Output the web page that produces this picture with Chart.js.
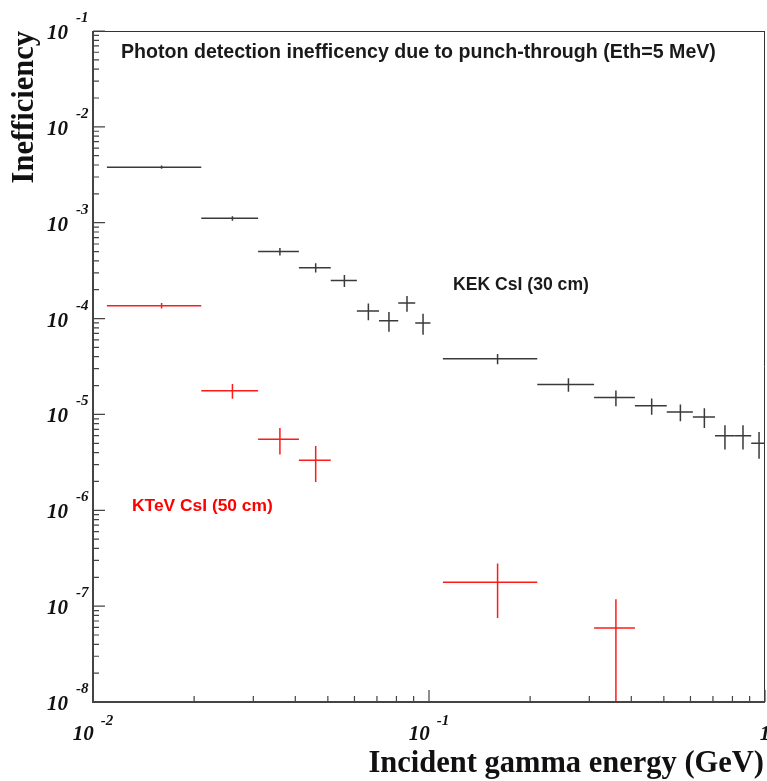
<!DOCTYPE html>
<html>
<head>
<meta charset="utf-8">
<script src="https://cdn.jsdelivr.net/npm/chart.js@4"></script>
<style>
  html, body { margin: 0; padding: 0; background: #fff; }
  canvas { display: block; }
</style>
</head>
<body>
<canvas id="chart" width="767" height="781"></canvas>
<script>
// KEK CsI (30 cm) -- bin centres, bin edges, values, errors
const kekX   = [0.016, 0.026, 0.036, 0.046, 0.056, 0.066, 0.076, 0.086, 0.096, 0.16, 0.26, 0.36, 0.46, 0.56, 0.66, 0.76, 0.86, 0.96];
const kekXLo = [0.011, 0.021, 0.031, 0.041, 0.051, 0.061, 0.071, 0.081, 0.091, 0.11, 0.21, 0.31, 0.41, 0.51, 0.61, 0.71, 0.81, 0.91];
const kekXHi = [0.021, 0.031, 0.041, 0.051, 0.061, 0.071, 0.081, 0.091, 0.101, 0.21, 0.31, 0.41, 0.51, 0.61, 0.71, 0.81, 0.91, 1.01];
const kekY   = [3.8e-3, 1.11e-3, 5.0e-4, 3.4e-4, 2.49e-4, 1.20e-4, 9.5e-5, 1.45e-4, 9.0e-5, 3.8e-5, 2.05e-5, 1.50e-5, 1.23e-5, 1.06e-5, 9.4e-6, 6.0e-6, 6.0e-6, 5.0e-6];
const kekErr = [1.5e-4, 6e-5, 4.5e-5, 3.8e-5, 3.5e-5, 2.4e-5, 2.2e-5, 2.7e-5, 2.2e-5, 4.6e-6, 3.3e-6, 2.8e-6, 2.4e-6, 2.1e-6, 2.2e-6, 1.7e-6, 1.7e-6, 1.55e-6];

// KTeV CsI (50 cm)
const ktevX   = [0.016, 0.026, 0.036, 0.046, 0.16, 0.36];
const ktevXLo = [0.011, 0.021, 0.031, 0.041, 0.11, 0.31];
const ktevXHi = [0.021, 0.031, 0.041, 0.051, 0.21, 0.41];
const ktevY   = [1.36e-4, 1.77e-5, 5.52e-6, 3.33e-6, 1.77e-7, 5.9e-8];
const ktevErr = [9e-6, 3.1e-6, 1.7e-6, 1.36e-6, 1.02e-7, 5.9e-8];

// axis decades (exponents)
const xExps = [-2, -1, 0];
const yExps = [-8, -7, -6, -5, -4, -3, -2, -1];

const titleText = 'Photon detection inefficency due to punch-through (Eth=5 MeV)';
const kekLabel = 'KEK CsI (30 cm)';
const ktevLabel = 'KTeV CsI (50 cm)';
const xTitle = 'Incident gamma energy (GeV)';
const yTitle = 'Inefficiency';

const SERIF = '"Liberation Serif", "Times New Roman", serif';
const SANS = '"Liberation Sans", Arial, Helvetica, sans-serif';

function toPoints(xs, ys) {
  return xs.map((x, i) => ({ x, y: ys[i] }));
}

// horizontal bin-width bar + vertical error bar, like ROOT's histogram "E" style
const crossPlugin = {
  id: 'crosses',
  afterDatasetsDraw(chart) {
    const { ctx, chartArea: a, scales: { x, y } } = chart;
    ctx.save();
    ctx.beginPath();
    ctx.rect(a.left, a.top, a.right - a.left, a.bottom - a.top);
    ctx.clip();
    chart.data.datasets.forEach(ds => {
      ctx.strokeStyle = ds.borderColor;
      ctx.lineWidth = 1.5;
      ds.data.forEach((p, i) => {
        const px = x.getPixelForValue(p.x);
        const py = y.getPixelForValue(p.y);
        const lo = p.y - ds.err[i];
        const yLo = lo > 0 ? y.getPixelForValue(lo) : a.bottom;
        const yHi = y.getPixelForValue(p.y + ds.err[i]);
        ctx.beginPath();
        ctx.moveTo(x.getPixelForValue(ds.xLo[i]), py);
        ctx.lineTo(x.getPixelForValue(ds.xHi[i]), py);
        ctx.moveTo(px, yHi);
        ctx.lineTo(px, yLo);
        ctx.stroke();
      });
    });
    ctx.restore();
  }
};

function powerLabel(ctx, base, exp) {
  ctx.font = 'bold italic 21px ' + SERIF;
  const wb = ctx.measureText(base).width;
  ctx.font = 'bold italic 15px ' + SERIF;
  const we = exp ? ctx.measureText(exp).width : 0;
  return { wb, we };
}

// frame, inward ticks, 10^n labels and texts
const framePlugin = {
  id: 'frame',
  afterDraw(chart) {
    const { ctx, chartArea: a, scales: { x, y } } = chart;
    ctx.save();

    // frame
    ctx.strokeStyle = '#333';
    ctx.lineWidth = 1;
    ctx.beginPath();
    ctx.moveTo(a.left, a.top + 0.5); ctx.lineTo(a.right, a.top + 0.5);
    ctx.moveTo(a.right - 0.5, a.top); ctx.lineTo(a.right - 0.5, a.bottom);
    ctx.stroke();
    ctx.strokeStyle = '#444';
    ctx.lineWidth = 2;
    ctx.beginPath();
    ctx.moveTo(a.left, a.top); ctx.lineTo(a.left, a.bottom);
    ctx.lineTo(a.right, a.bottom);
    ctx.stroke();

    // ticks
    ctx.lineWidth = 1.2;
    ctx.beginPath();
    yExps.forEach(e => {
      const py = y.getPixelForValue(Math.pow(10, e));
      ctx.moveTo(a.left, py); ctx.lineTo(a.left + 12, py);
      if (e < -1) {
        for (let m = 2; m <= 9; m++) {
          const pm = y.getPixelForValue(m * Math.pow(10, e));
          ctx.moveTo(a.left, pm); ctx.lineTo(a.left + 6, pm);
        }
      }
    });
    xExps.forEach(e => {
      const px = x.getPixelForValue(Math.pow(10, e));
      ctx.moveTo(px, a.bottom); ctx.lineTo(px, a.bottom - 12);
      if (e < 0) {
        for (let m = 2; m <= 9; m++) {
          const pm = x.getPixelForValue(m * Math.pow(10, e));
          ctx.moveTo(pm, a.bottom); ctx.lineTo(pm, a.bottom - 6);
        }
      }
    });
    ctx.stroke();

    // y tick labels
    ctx.fillStyle = '#111';
    ctx.textBaseline = 'alphabetic';
    yExps.forEach(e => {
      const py = y.getPixelForValue(Math.pow(10, e));
      ctx.font = 'bold italic 21px ' + SERIF;
      ctx.textAlign = 'right';
      ctx.fillText('10', 68, py + 8);
      ctx.font = 'bold italic 15px ' + SERIF;
      ctx.textAlign = 'left';
      ctx.fillText(String(e), 76, py - 9);
    });

    // x tick labels (centred on tick)
    xExps.forEach(e => {
      const px = x.getPixelForValue(Math.pow(10, e));
      const base = e === 0 ? '1' : '10';
      const exp = e === 0 ? '' : String(e);
      const { wb, we } = powerLabel(ctx, base, exp);
      const gap = exp ? 7 : 0;
      const start = px - (wb + gap + we) / 2;
      ctx.textAlign = 'left';
      ctx.font = 'bold italic 21px ' + SERIF;
      ctx.fillText(base, start, 740);
      if (exp) {
        ctx.font = 'bold italic 15px ' + SERIF;
        ctx.fillText(exp, start + wb + gap, 725);
      }
    });

    // axis titles
    ctx.font = 'bold 30.5px ' + SERIF;
    ctx.textAlign = 'right';
    ctx.fillText(xTitle, 764, 772);
    ctx.save();
    ctx.translate(33, 31);
    ctx.rotate(-Math.PI / 2);
    ctx.textAlign = 'right';
    ctx.fillText(yTitle, 0, 0);
    ctx.restore();

    // in-plot texts
    ctx.textAlign = 'left';
    ctx.fillStyle = '#1a1a1a';
    ctx.font = 'bold 19.6px ' + SANS;
    ctx.fillText(titleText, 121, 58);
    ctx.font = 'bold 17.6px ' + SANS;
    ctx.fillText(kekLabel, 453, 290);
    ctx.fillStyle = '#ff0000';
    ctx.font = 'bold 17.4px ' + SANS;
    ctx.fillText(ktevLabel, 132, 511);

    ctx.restore();
  }
};

new Chart(document.getElementById('chart'), {
  type: 'scatter',
  data: {
    datasets: [
      {
        label: kekLabel,
        data: toPoints(kekX, kekY),
        xLo: kekXLo, xHi: kekXHi, err: kekErr,
        borderColor: '#3a3a3a',
        pointRadius: 0,
        showLine: false,
      },
      {
        label: ktevLabel,
        data: toPoints(ktevX, ktevY),
        xLo: ktevXLo, xHi: ktevXHi, err: ktevErr,
        borderColor: '#ff1a1a',
        pointRadius: 0,
        showLine: false,
      },
    ],
  },
  options: {
    responsive: false,
    animation: false,
    devicePixelRatio: 1,
    layout: { padding: { top: 31, right: 2, left: 0, bottom: 0 } },
    plugins: { legend: { display: false }, tooltip: { enabled: false } },
    scales: {
      x: {
        type: 'logarithmic', min: 0.01, max: 1,
        ticks: { display: false },
        grid: { display: false },
        border: { display: false },
        afterFit(s) { s.height = 79; },
      },
      y: {
        type: 'logarithmic', min: 1e-8, max: 1e-1,
        ticks: { display: false },
        grid: { display: false },
        border: { display: false },
        afterFit(s) { s.width = 93; },
      },
    },
  },
  plugins: [crossPlugin, framePlugin],
});
</script>
</body>
</html>
